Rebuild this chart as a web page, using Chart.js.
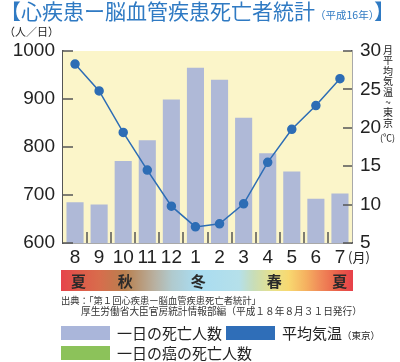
<!DOCTYPE html>
<html>
<head>
<meta charset="utf-8">
<script src="https://cdn.jsdelivr.net/npm/chart.js@4.4.1/dist/chart.umd.min.js"></script>
<style>
  body { margin: 0; background: #fff; font-family: "Noto Sans CJK JP", sans-serif; }
  #wrap { position: relative; width: 400px; height: 362px; overflow: hidden; }
  #wrap canvas { position: absolute; left: 0; top: 0; }
  .t { position: absolute; white-space: nowrap; line-height: 1; }
  .sw { position: absolute; }
</style>
</head>
<body>
<div id="wrap">
  <canvas id="chart" width="400" height="362"></canvas>

  <div class="t" style="left:0;top:0;font-size:21px;color:#2F7AC3;">【心疾患ー脳血管疾患死亡者統計<span style="font-size:10.5px;">（平成16年）</span>】</div>
  <div class="t" style="left:4px;top:26px;font-size:11px;color:#222;">（人／日）</div>

  <div class="t" id="rlabel" style="left:383px;top:45px;font-size:10px;color:#222;width:10px;white-space:normal;word-break:break-all;line-height:10.4px;text-align:center;"></div>
  <div class="t" style="left:380px;top:133px;font-size:9px;color:#222;">(℃)</div>
  <div class="t" style="left:348px;top:250px;font-size:13px;color:#222;">(月)</div>

  <div id="season" class="sw" style="left:61px;top:270px;width:292px;height:21px;
    background:linear-gradient(to right,#E6434B 0%,#DE5A49 6%,#D86C4C 13%,#B8804F 22%,#B8B0A0 32%,#B0CACE 38%,#A9DCF1 47%,#B5E0EA 61%,#C8DDB8 66%,#E9E189 73%,#F8D870 78%,#F5B060 84%,#F08858 89%,#E85848 96%,#E7404A 100%);"></div>

  <div class="t" style="left:61px;top:296px;font-size:9.3px;color:#333;">出典：「第１回心疾患ー脳血管疾患死亡者統計」</div>
  <div class="t" style="left:81px;top:307px;font-size:9.7px;color:#333;">厚生労働省大臣官房統計情報部編（平成１８年８月３１日発行）</div>

  <div class="sw" style="left:61px;top:326px;width:49px;height:14px;background:#AAB6DA;"></div>
  <div class="t" style="left:117px;top:325px;font-size:15px;color:#222;">一日の死亡人数</div>
  <div class="sw" style="left:226px;top:326px;width:49px;height:14px;background:#2F6EB8;"></div>
  <div class="t" style="left:282px;top:325px;font-size:15px;color:#222;">平均気温<span style="font-size:9.5px;">（東京）</span></div>
  <div class="sw" style="left:61px;top:346px;width:49px;height:14px;background:#8CC25A;"></div>
  <div class="t" style="left:117px;top:345px;font-size:15px;color:#222;">一日の癌の死亡人数</div>
</div>

<script>
// values
const months = ['8', '9', '10', '11', '12', '1', '2', '3', '4', '5', '6', '7'];
const deathsPerDay = [685, 680, 771, 814, 899, 965, 940, 861, 787, 749, 692, 703];
const tempTokyo = [28.3, 24.8, 19.4, 14.5, 9.8, 7.1, 7.5, 10.1, 15.5, 19.8, 22.9, 26.4];
const seasons = ['夏', '秋', '冬', '春', '夏'];
const seasonPos = [0.06, 0.22, 0.47, 0.73, 0.955]; // fraction along the season strip
const tempLabel = ['月', '平', '均', '気', '温', '~', '東', '京'];

document.getElementById('rlabel').textContent = tempLabel.join('');

// season names on the gradient strip
const strip = document.getElementById('season');
seasons.forEach((s, i) => {
    const d = document.createElement('div');
    d.className = 't';
    d.textContent = s;
    d.style.cssText = `left:${seasonPos[i] * 292 - 7.5}px;top:3px;font-size:15px;font-weight:bold;color:#2a2a2a;`;
    strip.appendChild(d);
});

const axisColor = '#555';

// yellow plot background + inward tick marks
const framePlugin = {
    id: 'frame',
    beforeDatasetsDraw(chart) {
        const { ctx, chartArea: a } = chart;
        ctx.save();
        ctx.fillStyle = '#FBF5C9';
        ctx.fillRect(a.left, a.top, a.right - a.left, a.bottom - a.top);
        ctx.restore();
    },
    afterDraw(chart) {
        const { ctx, chartArea: a, scales } = chart;
        ctx.save();
        ctx.strokeStyle = axisColor;
        ctx.lineWidth = 1.5;
        ctx.beginPath();
        scales.y.ticks.forEach(t => {
            const y = Math.round(scales.y.getPixelForValue(t.value));
            ctx.moveTo(a.left, y); ctx.lineTo(a.left + 10, y);
        });
        scales.y2.ticks.forEach(t => {
            const y = Math.round(scales.y2.getPixelForValue(t.value));
            ctx.moveTo(a.right, y); ctx.lineTo(a.right - 9, y);
        });
        for (let i = 1; i < months.length; i++) {
            const x = Math.round((scales.x.getPixelForValue(i - 1) + scales.x.getPixelForValue(i)) / 2);
            ctx.moveTo(x, a.bottom); ctx.lineTo(x, a.bottom - 11);
        }
        ctx.stroke();
        ctx.restore();
    }
};

const tickFont = { family: '"Liberation Sans", Arial, sans-serif', size: 19 };

new Chart(document.getElementById('chart'), {
    type: 'bar',
    data: {
        labels: months,
        datasets: [{
            type: 'line',
            label: '平均気温',
            data: tempTokyo,
            yAxisID: 'y2',
            borderColor: '#2D6DB5',
            backgroundColor: '#2D6DB5',
            borderWidth: 1.5,
            pointRadius: 4,
            tension: 0,
            order: 0
        }, {
            label: '一日の死亡人数',
            data: deathsPerDay,
            yAxisID: 'y',
            backgroundColor: '#AFB9D7',
            barPercentage: 0.71,
            categoryPercentage: 1,
            order: 1
        }]
    },
    options: {
        responsive: false,
        animation: false,
        layout: { padding: { top: 51, bottom: 91, left: 0, right: 0 } },
        plugins: { legend: { display: false }, tooltip: { enabled: false } },
        scales: {
            x: {
                grid: { display: false, drawTicks: false },
                border: { display: true, color: axisColor, width: 1.5 },
                ticks: { color: '#222', font: tickFont, padding: 3, maxRotation: 0, autoSkip: false },
                afterFit: s => { s.height = 28; }
            },
            y: {
                position: 'left',
                min: 600, max: 1000,
                grid: { display: false, drawTicks: false },
                border: { display: true, color: axisColor, width: 1.5 },
                ticks: {
                    stepSize: 50, color: '#222', font: tickFont, padding: 8,
                    callback: v => (v % 100 === 0 ? v : '')
                },
                afterFit: s => { s.width = 63; }
            },
            y2: {
                position: 'right',
                min: 5, max: 30,
                grid: { display: false, drawTicks: false },
                border: { display: true, color: axisColor, width: 1.5 },
                ticks: { stepSize: 5, color: '#222', font: tickFont, padding: 8 },
                afterFit: s => { s.width = 48; }
            }
        }
    },
    plugins: [framePlugin]
});
</script>
</body>
</html>
